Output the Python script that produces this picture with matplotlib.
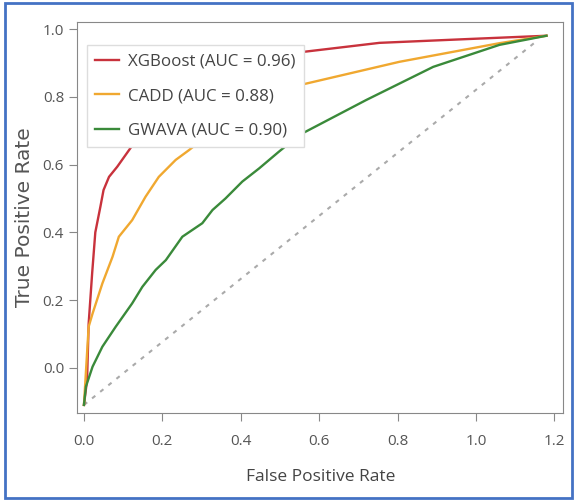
import matplotlib.pyplot as plt
from matplotlib.patches import Rectangle

plt.rcParams['font.family'] = ['Open Sans', 'DejaVu Sans']

# ROC curves (axes as drawn in the original)
xgb_fpr = [0.0, 0.008, 0.012, 0.021, 0.029, 0.042, 0.05, 0.064, 0.085, 0.115, 0.15, 0.2, 0.3, 0.4, 0.5, 0.55, 0.754, 0.975, 1.18]
xgb_tpr = [-0.11, -0.036, 0.13, 0.28, 0.40, 0.476, 0.525, 0.564, 0.594, 0.643, 0.70, 0.76, 0.835, 0.885, 0.918, 0.932, 0.960, 0.971, 0.981]

cadd_fpr = [0.0, 0.012, 0.022, 0.047, 0.073, 0.089, 0.123, 0.157, 0.191, 0.234, 0.268, 0.35, 0.45, 0.55, 0.805, 1.06, 1.18]
cadd_tpr = [-0.11, 0.121, 0.16, 0.249, 0.328, 0.387, 0.436, 0.505, 0.564, 0.614, 0.643, 0.72, 0.785, 0.835, 0.904, 0.959, 0.981]

gwava_fpr = [0.0, 0.005, 0.022, 0.047, 0.081, 0.123, 0.149, 0.183, 0.209, 0.251, 0.302, 0.328, 0.361, 0.404, 0.447, 0.497, 0.55, 0.72, 0.891, 1.06, 1.18]
gwava_tpr = [-0.11, -0.056, 0.003, 0.062, 0.121, 0.19, 0.239, 0.289, 0.318, 0.387, 0.427, 0.466, 0.50, 0.55, 0.589, 0.638, 0.688, 0.791, 0.889, 0.954, 0.981]

chance_x = [0.0, 1.16]
chance_y = [-0.11, 0.97]

labels = ['XGBoost (AUC = 0.96)', 'CADD (AUC = 0.88)', 'GWAVA (AUC = 0.90)']
x_ticks = [0.0, 0.2, 0.4, 0.6, 0.8, 1.0, 1.2]
y_ticks = [0.0, 0.2, 0.4, 0.6, 0.8, 1.0]

fig = plt.figure(figsize=(5.78, 5.0), dpi=100)
ax = fig.add_axes([0.1337, 0.1746, 0.8409, 0.7820])

ax.plot(chance_x, chance_y, color='#aaaaaa', lw=1.5, linestyle=(0, (2, 3)))
ax.plot(xgb_fpr, xgb_tpr, color='#c8323c', lw=1.7, label=labels[0])
ax.plot(cadd_fpr, cadd_tpr, color='#f0a830', lw=1.7, label=labels[1])
ax.plot(gwava_fpr, gwava_tpr, color='#3a8a3a', lw=1.7, label=labels[2])

ax.set_xlim(-0.017, 1.223)
ax.set_ylim(-0.133, 1.0225)
ax.set_xticks(x_ticks)
ax.set_yticks(y_ticks)
ax.set_xticklabels(['%.1f' % v for v in x_ticks])
ax.set_yticklabels(['%.1f' % v for v in y_ticks])
ax.tick_params(direction='out', length=6, color='#888888', labelcolor='#555555', labelsize=11)
ax.tick_params(axis='x', pad=9)
for s in ax.spines.values():
    s.set_color('#888888')

ax.set_xlabel('False Positive Rate', fontsize=12.5, color='#444444', labelpad=15)
ax.set_ylabel('True Positive Rate', fontsize=14.5, color='#555555', labelpad=6,
              family='DejaVu Sans')

leg = ax.legend(loc='upper left', bbox_to_anchor=(0.02, 0.94), borderaxespad=0,
                fontsize=12.2, labelspacing=1.1, borderpad=0.5, handlelength=1.4,
                handletextpad=0.5, frameon=True, framealpha=1, fancybox=False,
                edgecolor='#dddddd')
for t in leg.get_texts():
    t.set_color('#444444')

# blue frame around the whole figure
fig.patches.append(Rectangle((0.008, 0.004), 0.982, 0.99, transform=fig.transFigure,
                             fill=False, edgecolor='#4472c4', lw=2))

fig.savefig('out.png', dpi=100)
